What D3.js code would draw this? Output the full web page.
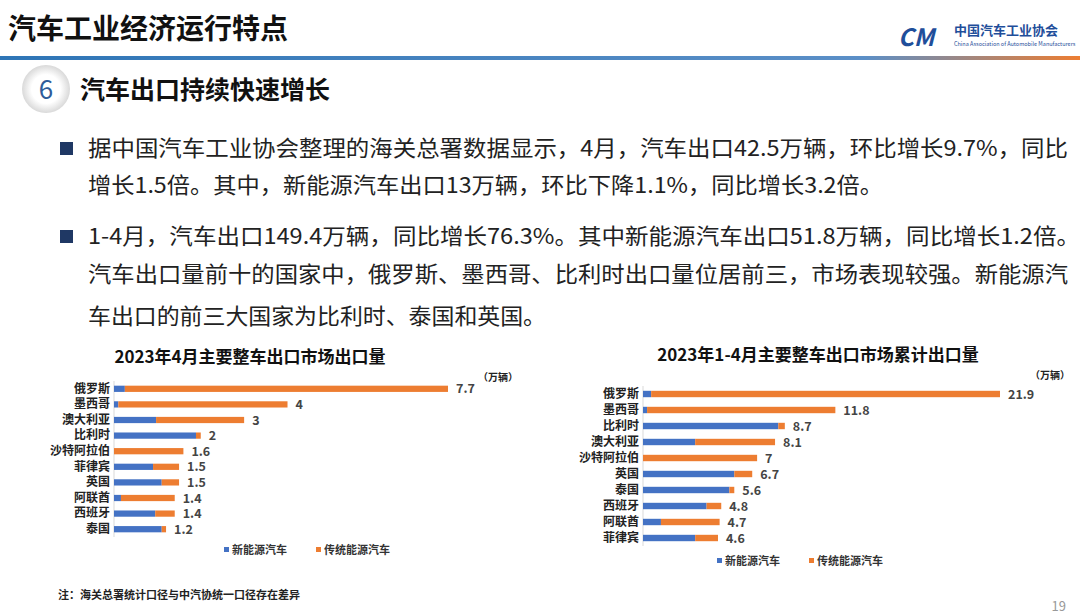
<!DOCTYPE html>
<meta charset="utf-8" />
<head>
	<title>汽车出口</title>
	<style>
		body { margin: 0; background: #fff; font-family: "Noto Sans CJK SC", sans-serif; }
		svg text { font-family: "Noto Sans CJK SC", sans-serif; }
	</style>
</head>
<body>
	<svg id="slide" width="1080" height="616"></svg>
	<script src="https://d3js.org/d3.v7.min.js"></script>
	<script>
		// 4月
		const monthCountries = [ "俄罗斯", "墨西哥", "澳大利亚", "比利时", "沙特阿拉伯", "菲律宾", "英国", "阿联酋", "西班牙", "泰国" ];
		const monthTotal = [ 7.7, 4, 3, 2, 1.6, 1.5, 1.5, 1.4, 1.4, 1.2 ];
		const monthNev = [ 0.25, 0.1, 0.97, 1.89, 0, 0.9, 1.1, 0.16, 0.95, 1.1 ];
		// 1-4月
		const ytdCountries = [ "俄罗斯", "墨西哥", "比利时", "澳大利亚", "沙特阿拉伯", "英国", "泰国", "西班牙", "阿联酋", "菲律宾" ];
		const ytdTotal = [ 21.9, 11.8, 8.7, 8.1, 7, 6.7, 5.6, 4.8, 4.7, 4.6 ];
		const ytdNev = [ 0.5, 0.25, 8.3, 3.2, 0, 5.6, 5.3, 3.9, 1.1, 3.2 ];
		const seriesNames = [ "新能源汽车", "传统能源汽车" ];

		const BLUE = "#4472c4", ORANGE = "#ed7d31";
		const svg = d3.select( "#slide" );

		// header
		const defs = svg.append( "defs" );
		const grad = defs.append( "linearGradient" ).attr( "id", "hline" );
		grad.append( "stop" ).attr( "offset", "0%" ).attr( "stop-color", "#2e75b6" );
		grad.append( "stop" ).attr( "offset", "80%" ).attr( "stop-color", "#5b8fc7" );
		grad.append( "stop" ).attr( "offset", "100%" ).attr( "stop-color", "#ed7d31" );
		const cg = defs.append( "radialGradient" ).attr( "id", "circ" );
		cg.append( "stop" ).attr( "offset", "60%" ).attr( "stop-color", "#fff" );
		cg.append( "stop" ).attr( "offset", "100%" ).attr( "stop-color", "#d9d9d9" );

		svg.append( "text" ).attr( "x", 8 ).attr( "y", 39 ).attr( "font-size", 28 ).attr( "font-weight", "bold" )
			.attr( "fill", "#111" ).text( "汽车工业经济运行特点" );
		svg.append( "rect" ).attr( "x", 0 ).attr( "y", 56 ).attr( "width", 1080 ).attr( "height", 4 ).attr( "fill", "url(#hline)" );
		svg.append( "text" ).attr( "x", 898 ).attr( "y", 46 ).attr( "font-size", 24 ).attr( "font-weight", "bold" )
			.attr( "font-style", "italic" ).attr( "fill", "#1f4e9a" ).text( "CM" );
		svg.append( "text" ).attr( "x", 954 ).attr( "y", 35 ).attr( "font-size", 13 ).attr( "font-weight", "bold" )
			.attr( "fill", "#1f4e9a" ).text( "中国汽车工业协会" );
		svg.append( "text" ).attr( "x", 954 ).attr( "y", 46 ).attr( "font-size", 5.5 )
			.attr( "fill", "#1f4e9a" ).text( "China Association of Automobile Manufacturers" );

		svg.append( "circle" ).attr( "cx", 46 ).attr( "cy", 89 ).attr( "r", 24 ).attr( "fill", "url(#circ)" );
		svg.append( "text" ).attr( "x", 46 ).attr( "y", 99 ).attr( "text-anchor", "middle" ).attr( "font-size", 26 )
			.attr( "fill", "#2e5c9a" ).attr( "font-family", "Roboto" ).text( "6" );
		svg.append( "text" ).attr( "x", 80 ).attr( "y", 99 ).attr( "font-size", 25 ).attr( "font-weight", "bold" )
			.attr( "fill", "#111" ).text( "汽车出口持续快速增长" );

		// bullets: [bullet, baseline, width, text]
		const lines = [
			[ 1, 156, 980, "据中国汽车工业协会整理的海关总署数据显示，4月，汽车出口42.5万辆，环比增长9.7%，同比" ],
			[ 0, 193, 795, "增长1.5倍。其中，新能源汽车出口13万辆，环比下降1.1%，同比增长3.2倍。" ],
			[ 1, 244, 992, "1-4月，汽车出口149.4万辆，同比增长76.3%。其中新能源汽车出口51.8万辆，同比增长1.2倍。" ],
			[ 0, 282, 980, "汽车出口量前十的国家中，俄罗斯、墨西哥、比利时出口量位居前三，市场表现较强。新能源汽" ],
			[ 0, 324, 458, "车出口的前三大国家为比利时、泰国和英国。" ]
		];
		lines.forEach( ( [ b, y, w, t ] ) => {
			if ( b ) svg.append( "rect" ).attr( "x", 60 ).attr( "y", y - 14 ).attr( "width", 13 ).attr( "height", 13 ).attr( "fill", "#1f3864" );
			svg.append( "text" ).attr( "x", 88 ).attr( "y", y ).attr( "font-size", 22 ).attr( "fill", "#222" )
				.attr( "textLength", w ).attr( "lengthAdjust", "spacingAndGlyphs" ).text( t );
		} );

		function barChart( o ) {
			const g = svg.append( "g" );
			g.append( "text" ).attr( "x", o.titleX ).attr( "y", o.titleY ).attr( "text-anchor", "middle" )
				.attr( "font-size", 17 ).attr( "font-weight", "bold" ).attr( "fill", "#111" ).text( o.title );
			g.append( "text" ).attr( "x", o.unitX ).attr( "y", o.titleY + 18 ).attr( "font-size", 10 )
				.attr( "font-weight", "bold" ).attr( "fill", "#222" ).text( "（万辆）" );
			const x = d3.scaleLinear().domain( [ 0, o.total[ 0 ] ] ).range( [ o.x0, o.x1 ] );
			const y = d3.scaleBand().domain( o.cats ).range( [ o.y0, o.y1 ] ).paddingInner( 0.6 ).paddingOuter( 0.3 );
			g.append( "line" ).attr( "x1", o.x0 ).attr( "x2", o.x0 ).attr( "y1", o.y0 ).attr( "y2", o.y1 ).attr( "stroke", "#d9d9d9" );
			g.append( "g" ).attr( "transform", `translate(${ o.x0 },0)` )
				.call( d3.axisLeft( y ).tickSize( 0 ).tickPadding( 4 ) )
				.call( a => a.select( ".domain" ).remove() )
				.selectAll( "text" ).attr( "font-size", 12 ).attr( "font-weight", "bold" ).attr( "fill", "#222" )
				.style( "font-family", "Noto Sans CJK SC" );
			o.cats.forEach( ( c, i ) => {
				g.append( "rect" ).attr( "x", x( 0 ) ).attr( "y", y( c ) ).attr( "height", y.bandwidth() )
					.attr( "width", x( o.nev[ i ] ) - x( 0 ) ).attr( "fill", BLUE );
				g.append( "rect" ).attr( "x", x( o.nev[ i ] ) ).attr( "y", y( c ) ).attr( "height", y.bandwidth() )
					.attr( "width", x( o.total[ i ] ) - x( o.nev[ i ] ) ).attr( "fill", ORANGE );
				g.append( "text" ).attr( "x", x( o.total[ i ] ) + 8 ).attr( "y", y( c ) + y.bandwidth() / 2 + 4.5 )
					.attr( "font-size", 12.5 ).attr( "font-weight", "bold" ).attr( "fill", "#444" ).text( o.total[ i ] );
			} );
			seriesNames.forEach( ( s, i ) => {
				const lx = o.legendX + i * 92;
				g.append( "rect" ).attr( "x", lx ).attr( "y", o.legendY - 7 ).attr( "width", 5 ).attr( "height", 5 )
					.attr( "fill", i ? ORANGE : BLUE );
				g.append( "text" ).attr( "x", lx + 8 ).attr( "y", o.legendY ).attr( "font-size", 11 )
					.attr( "font-weight", "bold" ).attr( "fill", "#333" ).text( s );
			} );
		}

		barChart( { title: "2023年4月主要整车出口市场出口量", titleX: 250, titleY: 363, unitX: 478,
			cats: monthCountries, total: monthTotal, nev: monthNev,
			x0: 114, x1: 448, y0: 381, y1: 537, legendX: 224, legendY: 554 } );
		barChart( { title: "2023年1-4月主要整车出口市场累计出口量", titleX: 818, titleY: 361, unitX: 1030,
			cats: ytdCountries, total: ytdTotal, nev: ytdNev,
			x0: 643, x1: 1000, y0: 386, y1: 546, legendX: 717, legendY: 565 } );

		svg.append( "text" ).attr( "x", 58 ).attr( "y", 599 ).attr( "font-size", 11 ).attr( "font-weight", "bold" )
			.attr( "fill", "#222" ).text( "注：海关总署统计口径与中汽协统一口径存在差异" );
		svg.append( "text" ).attr( "x", 1066 ).attr( "y", 611 ).attr( "text-anchor", "end" ).attr( "font-size", 13 )
			.attr( "fill", "#999" ).text( "19" );
	</script>
</body>
